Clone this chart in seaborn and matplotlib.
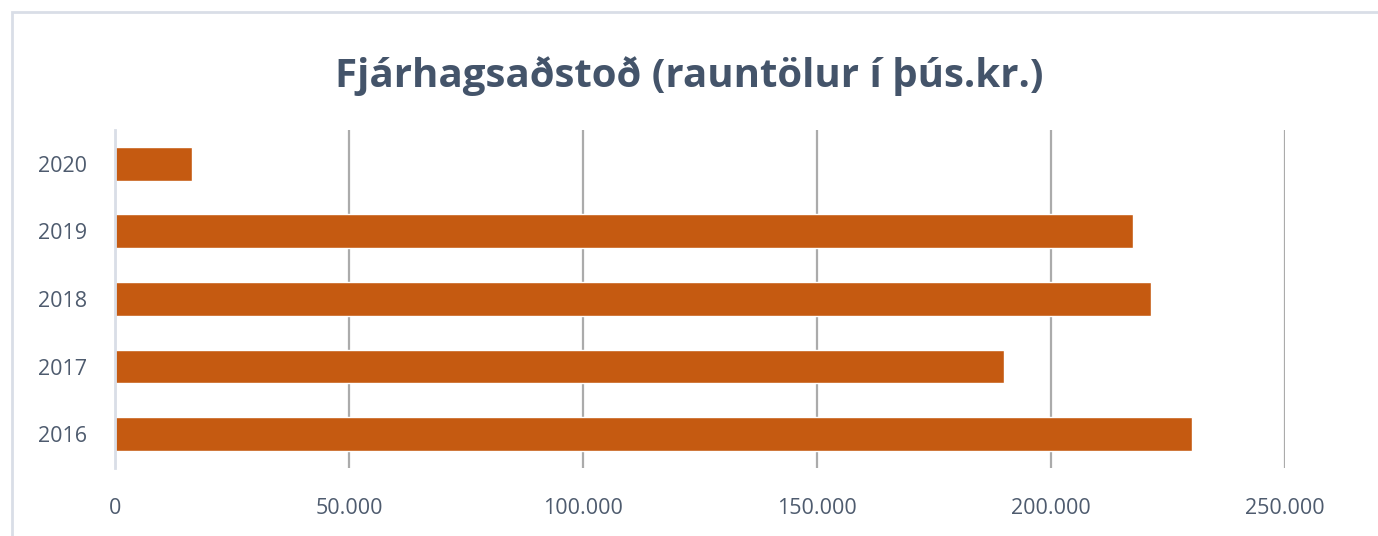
import matplotlib
matplotlib.use("Agg")
import matplotlib.pyplot as plt
import seaborn as sns
import pandas as pd
from matplotlib.patches import Rectangle
from matplotlib.ticker import FuncFormatter

# gögn lesin af myndinni (þús.kr.)
years = ['2020', '2019', '2018', '2017', '2016']
values = [16400, 217600, 221400, 190000, 230100]
x_ticks = [0, 50000, 100000, 150000, 200000, 250000]

df = pd.DataFrame({'ar': years, 'upphaed': values})

sns.set_style("white")
plt.rcParams['font.family'] = ['Open Sans', 'DejaVu Sans']

fig = plt.figure(figsize=(13.78, 5.36), dpi=100)
ax = fig.add_axes([0.0835, 0.127, 0.849, 0.6305])

sns.barplot(data=df, x='upphaed', y='ar', order=years, orient='h',
            color='#C55A11', saturation=1, width=0.5, ax=ax)

ax.set_xlim(0, 250000)
ax.set_ylim(4.5, -0.5)
ax.set_xticks(x_ticks)
ax.xaxis.set_major_formatter(FuncFormatter(lambda v, p: f"{int(v):,}".replace(',', '.')))
ax.grid(axis='x', color='#ABABAB', linewidth=1.6)
ax.set_axisbelow(True)
for s in ['top', 'right', 'bottom']:
    ax.spines[s].set_visible(False)
ax.spines['left'].set_color('#D9DEE7')
ax.spines['left'].set_linewidth(2)
ax.spines['left'].set_zorder(5)
ax.tick_params(axis='both', length=0, labelsize=15.5, colors='#4E5B6E')
ax.tick_params(axis='x', pad=22)
ax.tick_params(axis='y', pad=20)
ax.set(xlabel=None, ylabel=None)

fig.text(0.5, 0.858, 'Fjárhagsaðstoð (rauntölur í þús.kr.)', ha='center', va='center',
         fontsize=29, fontweight='bold', color='#44546A')

# rammi grafsins
fig.patches.append(Rectangle((12/1378, -0.1), 1.2, 1 - 12/536 + 0.1, transform=fig.transFigure,
                             fill=False, edgecolor='#D9DEE7', linewidth=2))

fig.savefig('out.png', dpi=100)
